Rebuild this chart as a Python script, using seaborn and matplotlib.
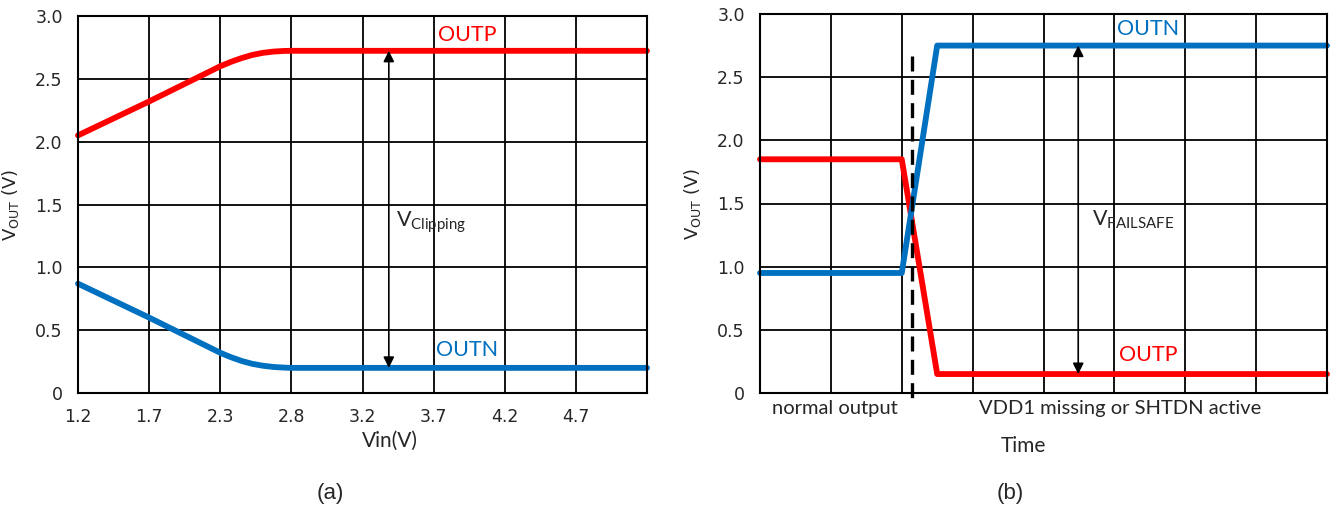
"""
Output clipping (a) and failsafe (b) transfer plots.
"""

import matplotlib
matplotlib.use("Agg")
import matplotlib.pyplot as plt
import pandas as pd
import seaborn as sns

# (a) output vs input voltage, x in grid-column units
vin_labels = ["1.2", "1.7", "2.3", "2.8", "3.2", "3.7", "4.2", "4.7"]
a_x = [0, 1, 2, 2.15, 2.3, 2.45, 2.6, 2.75, 2.9, 3, 8]
a_outp = [2.05, 2.32, 2.60, 2.635, 2.665, 2.69, 2.707, 2.717, 2.722, 2.723, 2.723]
a_outn = [0.87, 0.60, 0.32, 0.285, 0.255, 0.232, 0.217, 0.207, 0.202, 0.20, 0.20]

# (b) output vs time, x in grid-column units
b_x = [0, 2.0, 2.5, 8]
b_outp = [1.85, 1.85, 0.15, 0.15]
b_outn = [0.95, 0.95, 2.75, 2.75]

y_ticks = [0, 0.5, 1.0, 1.5, 2.0, 2.5, 3.0]
y_labels = ["0", "0.5", "1.0", "1.5", "2.0", "2.5", "3.0"]

RED = "#FF0000"
BLUE = "#0070C0"

sns.set_style("white")
plt.rcParams["font.family"] = ["Lato", "DejaVu Sans"]
plt.rcParams["mathtext.fontset"] = "custom"
plt.rcParams["mathtext.rm"] = "Lato"
plt.rcParams["mathtext.it"] = "Lato"

fig = plt.figure(figsize=(13.3, 5.13), dpi=100)
W, H = 1330, 513
ax_a = fig.add_axes([78 / W, (H - 393) / H, (647 - 78) / W, (393 - 16) / H])
ax_b = fig.add_axes([760 / W, (H - 393) / H, (1327 - 760) / W, (393 - 14) / H])


def style_axes(ax, xlabels):
    ax.set_xlim(0, 8)
    ax.set_ylim(0, 3)
    ax.set_xticks(range(9))
    ax.set_xticklabels(xlabels)
    ax.set_yticks(y_ticks)
    ax.set_yticklabels(y_labels)
    ax.grid(True, color="black", lw=1.3)
    ax.set_axisbelow(True)
    for sp in ax.spines.values():
        sp.set_color("black")
        sp.set_linewidth(1.5)
    ax.tick_params(length=0, labelsize=12.5, pad=11)
    for lbl in ax.get_xticklabels() + ax.get_yticklabels():
        lbl.set_fontfamily("DejaVu Sans")
    ax.set_ylabel("V$_{\\mathrm{OUT}}$ (V)", fontsize=13,
                  family="DejaVu Sans", math_fontfamily="dejavusans")
    ax.yaxis.set_label_coords(-0.1, 0.5)


def draw(ax, x, y, color):
    df = pd.DataFrame({"x": x, "y": y})
    sns.lineplot(data=df, x="x", y="y", ax=ax, color=color, lw=4.2,
                 sort=False, estimator=None)
    ln = ax.get_lines()[-1]
    ln.set_solid_capstyle("round")
    ln.set_solid_joinstyle("round")
    ln.set_clip_on(False)


# ---- (a)
draw(ax_a, a_x, a_outp, RED)
draw(ax_a, a_x, a_outn, BLUE)
style_axes(ax_a, vin_labels + [""])
ax_a.set_xlabel("Vin(V)", fontsize=15)
ax_a.xaxis.set_label_coords(4.39 / 8, -0.1)
ax_a.annotate("", xy=(4.37, a_outn[-1]), xytext=(4.37, a_outp[-1]),
              arrowprops=dict(arrowstyle="<|-|>", color="black", lw=1.2,
                              mutation_scale=16, shrinkA=0, shrinkB=0))
ax_a.text(4.47, 1.36, "V$_{\\mathrm{Clipping}}$", fontsize=15.5, va="center")
ax_a.text(5.47, 2.85, "OUTP", color=RED, fontsize=15.5, ha="center", va="center")
ax_a.text(5.47, 0.34, "OUTN", color=BLUE, fontsize=15.5, ha="center", va="center")

# ---- (b)
draw(ax_b, b_x, b_outp, RED)
draw(ax_b, b_x, b_outn, BLUE)
style_axes(ax_b, [""] * 9)
ax_b.set_xlabel("")
ax_b.plot([2.14, 2.14], [2.67, -0.08], color="black", lw=2.4,
          ls=(0, (4.5, 2.5)), clip_on=False, zorder=5)
ax_b.annotate("", xy=(4.49, b_outp[-1]), xytext=(4.49, b_outn[-1]),
              arrowprops=dict(arrowstyle="<|-|>", color="black", lw=1.2,
                              mutation_scale=16, shrinkA=0, shrinkB=0))
ax_b.text(4.69, 1.37, "V$_{\\mathrm{FAILSAFE}}$", fontsize=15.5, va="center")
ax_b.text(5.48, 2.88, "OUTN", color=BLUE, fontsize=15.5, ha="center", va="center")
ax_b.text(5.48, 0.30, "OUTP", color=RED, fontsize=15.5, ha="center", va="center")
tr = ax_b.get_xaxis_transform()
ax_b.text(1.05, -0.04, "normal output", transform=tr, fontsize=14.5,
          ha="center", va="center")
ax_b.text(5.08, -0.04, "VDD1 missing or SHTDN active", transform=tr,
          fontsize=14.5, ha="center", va="center")
ax_b.text(3.72, -0.14, "Time", transform=tr, fontsize=15,
          ha="center", va="center")

fig.text(330 / W, 1 - 493 / H, "(a)", fontsize=16, ha="center", va="center",
         family="Liberation Sans")
fig.text(1010 / W, 1 - 493 / H, "(b)", fontsize=16, ha="center", va="center",
         family="Liberation Sans")

fig.savefig("out.png", dpi=100)
